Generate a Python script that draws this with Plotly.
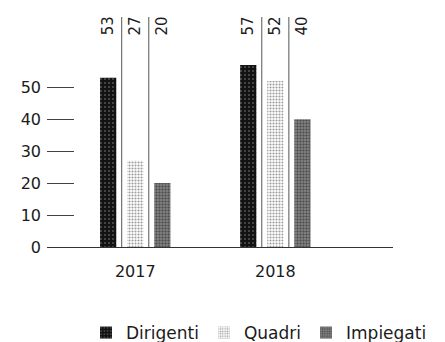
import plotly.graph_objects as go

years = ["2017", "2018"]
dirigenti = [53, 57]
quadri = [27, 52]
impiegati = [20, 40]
y_ticks = [0, 10, 20, 30, 40, 50]

font = "DejaVu Sans, sans-serif"
ink = "#1b1b1b"

series = [
    ("Dirigenti", dirigenti, dict(bgcolor="#121212", fgcolor="#ffffff", shape=".", size=4, solidity=0.12)),
    ("Quadri", quadri, dict(bgcolor="#ffffff", fgcolor="#3a3a3a", shape=".", size=3, solidity=0.4)),
    ("Impiegati", impiegati, dict(bgcolor="#8a8a8a", fgcolor="#1a1a1a", shape=".", size=3, solidity=0.5)),
]

xpos = list(range(len(years)))
fig = go.Figure()
for name, vals, pat in series:
    fig.add_trace(go.Bar(
        x=xpos, y=vals, name=name,
        marker=dict(color=pat["bgcolor"], line=dict(width=0), pattern=pat),
    ))

# geometry of the grouped bars (bargap / bargroupgap below)
bargap = 0.42
slot = (1 - bargap) / 3

for i in xpos:
    # thin dividers between bars, running to the top
    for k in (-0.5, 0.5):
        fig.add_shape(type="line", xref="x", yref="paper",
                      x0=i + k * slot, x1=i + k * slot, y0=0, y1=1,
                      line=dict(color="#555555", width=1))
    # value labels, rotated, at the top
    for j, (name, vals, pat) in enumerate(series):
        fig.add_annotation(x=i + (j - 1) * slot, xref="x", y=1.01, yref="paper",
                           yanchor="top", xanchor="center", textangle=-90,
                           text=str(vals[i]), showarrow=False,
                           font=dict(family=font, size=15, color=ink))

# page body has an 8px margin, so offsets are shifted by that
fig.update_layout(
    width=445, height=342,
    margin=dict(l=39, r=60, t=9, b=103),
    paper_bgcolor="white", plot_bgcolor="white",
    barmode="group", bargap=bargap, bargroupgap=0.4,
    font=dict(family=font, size=16, color=ink),
    showlegend=True,
    legend=dict(orientation="h", xref="container", x=78 / 445, xanchor="left",
                yref="container", y=1 - 325 / 342, yanchor="middle",
                font=dict(size=17), itemwidth=30, tracegroupgap=0),
)
fig.update_xaxes(
    range=[-0.63, 1.84], tickvals=xpos, ticktext=years, automargin=False,
    showline=True, linecolor="#333333", linewidth=1,
    showgrid=False, zeroline=False, ticks="", ticklabelstandoff=10,
)
fig.update_yaxes(
    range=[0, 72], tickvals=y_ticks, showgrid=False, zeroline=False, automargin=False,
    showline=False, ticks="inside", ticklen=27, tickcolor="#444444",
    ticklabelstandoff=5,
)

fig.write_html("out.html")
